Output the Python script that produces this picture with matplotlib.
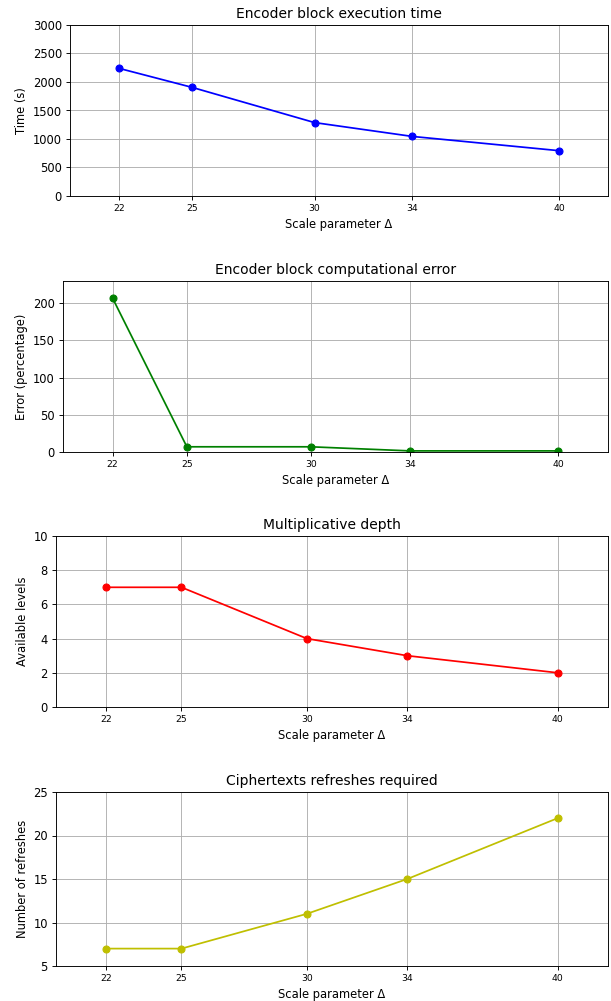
import matplotlib
matplotlib.use("Agg")
import matplotlib.pyplot as plt

# Datos
scale = [22, 25, 30, 34, 40]
exec_time = [2240, 1905, 1288, 1045, 795]
comp_error = [207, 7, 7, 1.5, 1.5]
levels = [7, 7, 4, 3, 2]
refreshes = [7, 7, 11, 15, 22]

W, H = 611, 1001
dpi = 83
fig, ax = plt.subplots(4, 1, figsize=(W / dpi, H / dpi), dpi=dpi)

ax[0].plot(scale, exec_time, 'o-', color='b')
ax[0].set_title("Encoder block execution time")
ax[0].set_ylabel("Time (s)")
ax[0].set_ylim(0, 3000)

ax[1].plot(scale, comp_error, 'o-', color='g')
ax[1].set_title("Encoder block computational error")
ax[1].set_ylabel("Error (percentage)")
ax[1].set_ylim(0, 230)

ax[2].plot(scale, levels, 'o-', color='r')
ax[2].set_title("Multiplicative depth")
ax[2].set_ylabel("Available levels")
ax[2].set_ylim(0, 10)

ax[3].plot(scale, refreshes, 'o-', color='y')
ax[3].set_title("Ciphertexts refreshes required")
ax[3].set_ylabel("Number of refreshes")
ax[3].set_ylim(5, 25)

for a in ax:
    a.set_xlim(20, 42)
    a.set_xticks(scale)
    a.tick_params(axis='x', labelsize=8)
    a.set_xlabel("Scale parameter Δ")
    a.grid(True)

# posiciones en pixeles (izq, arriba, der, abajo)
boxes = [(70, 25, 608, 196), (63, 281, 608, 452), (56, 536, 608, 707), (56, 792, 608, 966)]
for a, (l, t, r, b) in zip(ax, boxes):
    a.set_position([l / W, 1 - b / H, (r - l) / W, (b - t) / H])

plt.savefig("out.png", dpi=dpi)
